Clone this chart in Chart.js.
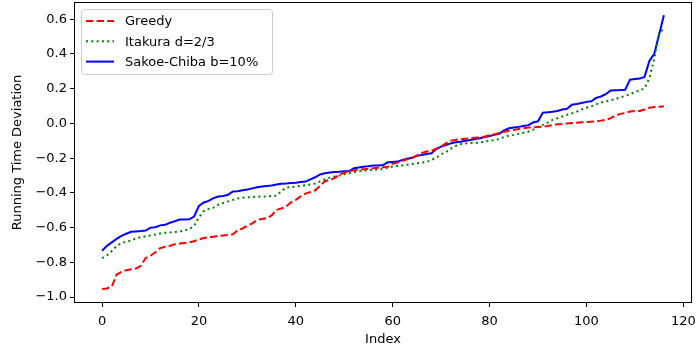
<!DOCTYPE html>
<html>
<head>
<meta charset="utf-8">
<script src="https://cdn.jsdelivr.net/npm/chart.js@4/dist/chart.umd.min.js"></script>
<style>
  html, body { margin: 0; padding: 0; background: #fff; }
  #wrap { width: 696px; height: 351px; }
</style>
</head>
<body>
<div id="wrap"><canvas id="chart"></canvas></div>
<script>
// valeurs (117 points, index 0..116)
const greedy = [
  -0.953, -0.950, -0.940, -0.870, -0.855, -0.845, -0.840, -0.836, -0.820, -0.775,
  -0.762, -0.742, -0.718, -0.710, -0.705, -0.696, -0.692, -0.688, -0.685, -0.678,
  -0.668, -0.660, -0.655, -0.652, -0.648, -0.645, -0.642, -0.638, -0.615, -0.605,
  -0.590, -0.575, -0.556, -0.550, -0.546, -0.530, -0.498, -0.490, -0.478, -0.455,
  -0.440, -0.420, -0.404, -0.395, -0.385, -0.360, -0.333, -0.325, -0.315, -0.295,
  -0.285, -0.275, -0.270, -0.266, -0.264, -0.262, -0.258, -0.255, -0.252, -0.250,
  -0.232, -0.226, -0.215, -0.207, -0.198, -0.185, -0.170, -0.162, -0.158, -0.145,
  -0.132, -0.115, -0.100, -0.095, -0.091, -0.088, -0.085, -0.082, -0.080, -0.075,
  -0.068, -0.063, -0.055, -0.048, -0.042, -0.038, -0.032, -0.028, -0.024, -0.022,
  -0.020, -0.019, -0.015, -0.010, -0.005, -0.003, 0.000, 0.002, 0.004, 0.006,
  0.008, 0.010, 0.012, 0.016, 0.020, 0.030, 0.045, 0.055, 0.060, 0.068,
  0.071, 0.072, 0.080, 0.090, 0.094, 0.096, 0.097
];
const itakura = [
  -0.775, -0.760, -0.735, -0.705, -0.690, -0.680, -0.675, -0.662, -0.655, -0.650,
  -0.645, -0.640, -0.634, -0.630, -0.628, -0.625, -0.622, -0.617, -0.608, -0.590,
  -0.540, -0.505, -0.492, -0.485, -0.468, -0.458, -0.450, -0.440, -0.432, -0.428,
  -0.426, -0.424, -0.422, -0.421, -0.420, -0.418, -0.416, -0.390, -0.370, -0.367,
  -0.364, -0.360, -0.356, -0.352, -0.346, -0.334, -0.322, -0.312, -0.305, -0.300,
  -0.293, -0.287, -0.281, -0.276, -0.272, -0.270, -0.267, -0.265, -0.262, -0.255,
  -0.248, -0.245, -0.242, -0.238, -0.234, -0.230, -0.226, -0.222, -0.210, -0.198,
  -0.178, -0.165, -0.145, -0.130, -0.120, -0.115, -0.113, -0.112, -0.110, -0.105,
  -0.100, -0.097, -0.090, -0.078, -0.070, -0.066, -0.060, -0.054, -0.048, -0.036,
  -0.020, -0.008, 0.005, 0.020, 0.030, 0.040, 0.050, 0.058, 0.068, 0.080,
  0.090, 0.098, 0.110, 0.120, 0.126, 0.134, 0.140, 0.150, 0.158, 0.168,
  0.180, 0.190, 0.202, 0.260, 0.370, 0.520, 0.545
];
const sakoe = [
  -0.733, -0.705, -0.685, -0.665, -0.648, -0.635, -0.624, -0.622, -0.620, -0.617,
  -0.600, -0.598, -0.587, -0.584, -0.572, -0.563, -0.553, -0.553, -0.552, -0.536,
  -0.475, -0.455, -0.446, -0.430, -0.421, -0.418, -0.411, -0.392, -0.390, -0.385,
  -0.380, -0.374, -0.368, -0.363, -0.360, -0.358, -0.352, -0.348, -0.346, -0.343,
  -0.341, -0.338, -0.335, -0.322, -0.310, -0.294, -0.287, -0.283, -0.280, -0.278,
  -0.275, -0.274, -0.258, -0.254, -0.250, -0.246, -0.243, -0.242, -0.240, -0.224,
  -0.222, -0.220, -0.210, -0.204, -0.198, -0.186, -0.182, -0.176, -0.172, -0.148,
  -0.134, -0.124, -0.115, -0.108, -0.105, -0.100, -0.096, -0.090, -0.086, -0.079,
  -0.072, -0.066, -0.060, -0.040, -0.028, -0.024, -0.020, -0.015, -0.010, 0.005,
  0.012, 0.062, 0.064, 0.067, 0.072, 0.080, 0.084, 0.108, 0.112, 0.118,
  0.124, 0.127, 0.147, 0.155, 0.168, 0.190, 0.191, 0.192, 0.194, 0.252,
  0.256, 0.258, 0.268, 0.360, 0.400, 0.510, 0.623
];
const seriesNames = ["Greedy", "Itakura d=2/3", "Sakoe-Chiba b=10%"];
const xTicks = [0, 20, 40, 60, 80, 100, 120];
const yTicks = [-1.0, -0.8, -0.6, -0.4, -0.2, 0.0, 0.2, 0.4, 0.6];

const FONT = "'DejaVu Sans', sans-serif";
Chart.defaults.font.family = FONT;
Chart.defaults.font.size = 13;
Chart.defaults.color = '#000';

const toPts = arr => arr.map((v, i) => ({x: i, y: v}));

// cadre + legende facon matplotlib
const frame = {
  id: 'frame',
  afterDatasetsDraw(chart) {
    const {ctx, chartArea: a} = chart;
    ctx.save();
    ctx.strokeStyle = '#000';
    ctx.lineWidth = 1;
    ctx.strokeRect(Math.round(a.left) + 0.5, Math.round(a.top) + 0.5,
      Math.round(a.right - a.left) - 1, Math.round(a.bottom - a.top) - 1);

    // legende
    const lx = a.left + 7, ly = a.top + 7, lw = 191, lh = 65;
    ctx.fillStyle = 'rgba(255,255,255,0.8)';
    ctx.strokeStyle = '#cccccc';
    ctx.beginPath();
    ctx.roundRect(lx + 0.5, ly + 0.5, lw, lh, 3);
    ctx.fill();
    ctx.stroke();
    chart.data.datasets.forEach((ds, i) => {
      const y = ly + 12 + i * 20.3;
      ctx.strokeStyle = ds.borderColor;
      ctx.lineWidth = ds.borderWidth;
      ctx.setLineDash(ds.borderDash || []);
      ctx.beginPath();
      ctx.moveTo(lx + 5, y);
      ctx.lineTo(lx + 33, y);
      ctx.stroke();
      ctx.setLineDash([]);
      ctx.fillStyle = '#000';
      ctx.font = '13px ' + FONT;
      ctx.textBaseline = 'middle';
      ctx.fillText(ds.label, lx + 44, y + 1);
    });
    ctx.restore();
  }
};

new Chart(document.getElementById('chart'), {
  type: 'line',
  data: {
    datasets: [
      {label: seriesNames[0], data: toPts(greedy), borderColor: '#ff0000', borderWidth: 2, borderDash: [7.4, 3.2]},
      {label: seriesNames[1], data: toPts(itakura), borderColor: '#008000', borderWidth: 2, borderDash: [2, 3.3]},
      {label: seriesNames[2], data: toPts(sakoe), borderColor: '#0000ff', borderWidth: 2}
    ]
  },
  options: {
    responsive: true,
    maintainAspectRatio: false,
    animation: false,
    elements: {point: {radius: 0}, line: {tension: 0, fill: false}},
    layout: {padding: {top: 2, right: 4, left: 0, bottom: 0}},
    plugins: {legend: {display: false}, tooltip: {enabled: false}},
    scales: {
      x: {
        type: 'linear',
        min: -5.8, max: 121.8,
        afterBuildTicks: s => { s.ticks = xTicks.map(v => ({value: v})); },
        afterFit: s => { s.height = 48; s.paddingLeft = 0; s.paddingRight = 0; },
        grid: {drawOnChartArea: false, drawTicks: true, tickLength: 4, tickColor: '#000'},
        border: {display: false},
        ticks: {padding: 7, maxRotation: 0, callback: v => String(v)},
        title: {display: true, text: 'Index', padding: {top: 0, bottom: 4}}
      },
      y: {
        min: -1.034, max: 0.699,
        afterBuildTicks: s => { s.ticks = yTicks.map(v => ({value: v})); },
        afterFit: s => { s.width = 74; s.paddingTop = 0; s.paddingBottom = 0; },
        grid: {drawOnChartArea: false, drawTicks: true, tickLength: 4, tickColor: '#000'},
        border: {display: false},
        ticks: {padding: 3, callback: v => v.toFixed(1).replace('-', '\u2212')},
        title: {display: true, text: 'Running Time Deviation', padding: {top: 10, bottom: 0}}
      }
    }
  },
  plugins: [frame]
});
</script>
</body>
</html>
